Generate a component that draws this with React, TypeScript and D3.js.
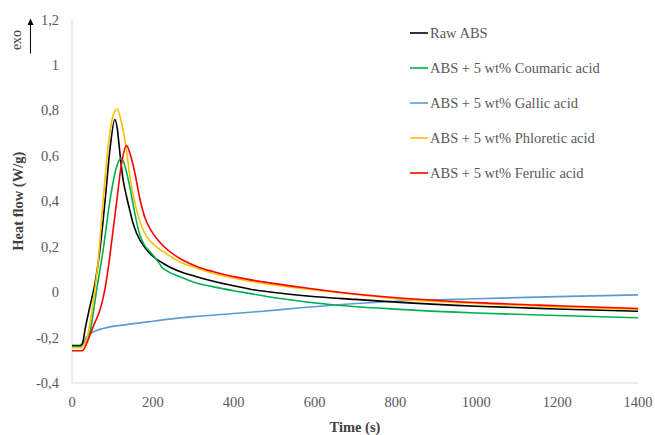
import React from "react";
import * as d3 from "d3";

const seriesNames = [
  "Raw ABS",
  "ABS + 5 wt% Coumaric acid",
  "ABS + 5 wt% Gallic acid",
  "ABS + 5 wt% Phloretic acid",
  "ABS + 5 wt% Ferulic acid",
];
const seriesColors = ["#000000", "#00b050", "#5b9bd5", "#ffc000", "#ff0000"];

const rawT = [0, 20, 26, 32, 44, 57, 69, 82, 94, 106, 112, 118, 126, 135, 143, 150, 160, 185, 226, 260, 308, 391, 441, 500, 589, 700, 811, 1000, 1200, 1400];
const rawV = [-0.235, -0.235, -0.225, -0.167, -0.065, 0.04, 0.185, 0.405, 0.63, 0.76, 0.72, 0.62, 0.5, 0.42, 0.36, 0.31, 0.258, 0.185, 0.126, 0.095, 0.068, 0.031, 0.013, -0.002, -0.018, -0.032, -0.045, -0.062, -0.074, -0.084];

const coumT = [0, 22, 30, 44, 61, 77, 94, 110, 122, 130, 143, 155, 168, 180, 193, 210, 222, 240, 267, 300, 350, 420, 515, 650, 811, 1000, 1200, 1400];
const coumV = [-0.24, -0.24, -0.23, -0.18, 0.01, 0.185, 0.405, 0.55, 0.59, 0.56, 0.464, 0.35, 0.25, 0.205, 0.178, 0.141, 0.111, 0.088, 0.068, 0.045, 0.023, 0.0, -0.028, -0.057, -0.076, -0.092, -0.103, -0.113];

const gallT = [0, 22, 28, 36, 53, 77, 143, 200, 300, 400, 465, 560, 650, 811, 1000, 1200, 1400];
const gallV = [-0.24, -0.24, -0.225, -0.197, -0.175, -0.16, -0.141, -0.128, -0.108, -0.094, -0.085, -0.07, -0.057, -0.039, -0.029, -0.02, -0.012];

const phloT = [0, 22, 28, 36, 53, 65, 77, 90, 102, 112, 122, 135, 143, 160, 172, 185, 205, 226, 267, 310, 350, 410, 473, 589, 700, 811, 1000, 1200, 1400];
const phloV = [-0.245, -0.245, -0.235, -0.21, -0.035, 0.14, 0.405, 0.65, 0.78, 0.806, 0.75, 0.62, 0.51, 0.36, 0.29, 0.244, 0.205, 0.178, 0.133, 0.105, 0.082, 0.058, 0.038, 0.012, -0.01, -0.031, -0.05, -0.065, -0.076];

const ferT = [0, 24, 30, 40, 55, 69, 80, 90, 100, 111, 122, 135, 145, 156, 168, 180, 193, 210, 226, 267, 310, 350, 410, 473, 589, 700, 811, 1000, 1200, 1400];
const ferV = [-0.258, -0.258, -0.25, -0.21, -0.14, -0.08, 0.0, 0.11, 0.25, 0.405, 0.56, 0.645, 0.6, 0.52, 0.41, 0.33, 0.28, 0.235, 0.203, 0.148, 0.112, 0.09, 0.065, 0.045, 0.016, -0.008, -0.026, -0.046, -0.06, -0.072];

const seriesT = [rawT, coumT, gallT, phloT, ferT];
const seriesV = [rawV, coumV, gallV, phloV, ferV];

const xTicks = [0, 200, 400, 600, 800, 1000, 1200, 1400];
const yTicks = [-0.4, -0.2, 0, 0.2, 0.4, 0.6, 0.8, 1, 1.2];

const W = 655;
const H = 435;
const FONT = "'Liberation Serif', 'Times New Roman', serif";

export default function App() {
  const x = d3.scaleLinear().domain([0, 1400]).range([72, 638]);
  const y = d3.scaleLinear().domain([-0.4, 1.2]).range([383, 19.5]);
  const fmt = (v: number) => {
    const s = d3.format("~g")(+v.toFixed(2));
    return s.replace(".", ",").replace("−", "-");
  };
  const line = d3
    .line<[number, number]>()
    .x((d) => x(d[0]))
    .y((d) => y(d[1]))
    .curve(d3.curveMonotoneX);

  const drawOrder = [2, 0, 1, 3, 4];

  return (
    <svg
      width={W}
      height={H}
      style={{ position: "absolute", left: 0, top: 0, background: "#fff" }}
      fontFamily={FONT}
    >
      <rect x={0} y={0} width={W} height={H} fill="#fff" />
      <line x1={x(0)} x2={x(0)} y1={y(1.2)} y2={y(-0.4)} stroke="#d9d9d9" strokeWidth={1} />
      <line x1={x(0)} x2={x(1400)} y1={y(-0.4)} y2={y(-0.4)} stroke="#d9d9d9" strokeWidth={1} />
      {yTicks.map((t) => (
        <text
          key={"y" + t}
          x={59}
          y={y(t)}
          dy="0.35em"
          textAnchor="end"
          fontSize={14.5}
          fill="#595959"
        >
          {fmt(t)}
        </text>
      ))}
      {xTicks.map((t) => (
        <text
          key={"x" + t}
          x={x(t)}
          y={402}
          dy="0.35em"
          textAnchor="middle"
          fontSize={14.5}
          fill="#595959"
        >
          {fmt(t)}
        </text>
      ))}
      <text x={355} y={427} dy="0.35em" textAnchor="middle" fontSize={14.5} fontWeight="bold" fill="#404040">
        Time (s)
      </text>
      <text
        transform={`translate(18,${(y(1.2) + y(-0.4)) / 2}) rotate(-90)`}
        dy="0.35em"
        textAnchor="middle"
        fontSize={14.5}
        fontWeight="bold"
        fill="#404040"
      >
        Heat flow (W/g)
      </text>
      <text
        transform="translate(16.5,40) rotate(-90)"
        dy="0.35em"
        textAnchor="middle"
        fontSize={14}
        fill="#404040"
      >
        exo
      </text>
      <line x1={30.5} x2={30.5} y1={53.5} y2={24} stroke="#000" strokeWidth={1} />
      <path d="M27.5,25 L30.5,18.5 L33.5,25 Z" fill="#000" />
      {drawOrder.map((i) => {
        const pts: [number, number][] = seriesT[i].map((t, k) => [t, seriesV[i][k]]);
        return (
          <path
            key={"s" + i}
            d={line(pts) || ""}
            fill="none"
            stroke={seriesColors[i]}
            strokeWidth={1.6}
            strokeLinejoin="round"
          />
        );
      })}
      {seriesNames.map((n, i) => {
        const ly = 33 + i * 35;
        return (
          <g key={"l" + i}>
            <line x1={410} x2={428} y1={ly} y2={ly} stroke={seriesColors[i]} strokeWidth={1.6} />
            <text x={430} y={ly} dy="0.35em" fontSize={14.5} fill="#595959">
              {n}
            </text>
          </g>
        );
      })}
    </svg>
  );
}
